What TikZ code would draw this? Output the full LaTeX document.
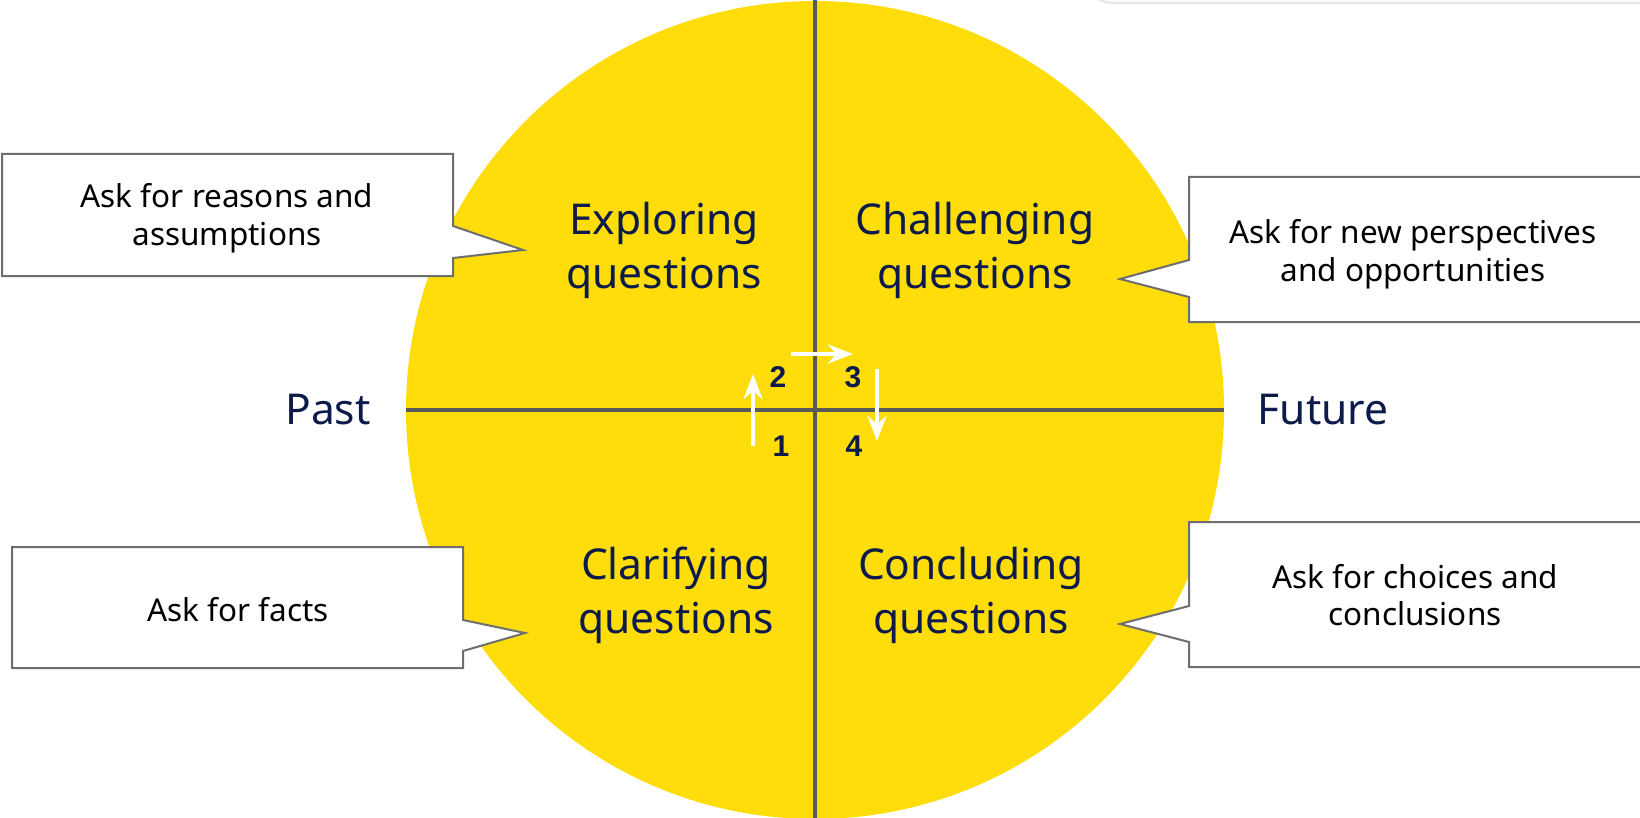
\documentclass[tikz,border=0pt]{standalone}
\usepackage{fontspec}
\setmainfont{Noto Sans}
\newfontfamily\numfont{Liberation Sans}
\usetikzlibrary{arrows.meta}
\definecolor{qyellow}{HTML}{FEDD0B}
\definecolor{qnavy}{HTML}{0D1B4A}
\definecolor{qgray}{HTML}{5A5A5A}
\definecolor{bgray}{HTML}{6E6E6E}
\definecolor{edgegray}{HTML}{E6E8EC}
\begin{document}
\begin{tikzpicture}[x=1pt,y=-1pt,
  quad/.style={font=\fontsize{42.5}{54}\selectfont, text=qnavy, align=center},
  axislabel/.style={font=\fontsize{42.5}{48}\selectfont, text=qnavy},
  num/.style={font=\numfont\fontsize{30}{32}\selectfont\bfseries, text=qnavy},
  flow/.style={draw=white, line width=4pt, -{Stealth[length=25pt,width=19pt]}},
  callout/.style={draw=bgray, fill=white, line width=2pt, line join=miter},
  ctext/.style={font=\fontsize{31.5}{37.5}\selectfont, text=black, align=center},
  divider/.style={draw=qgray, line width=3.5pt}]
\useasboundingbox (0,0) rectangle (1640,818);
\begin{scope}
\clip (0,0) rectangle (1640,818);
% faint edge of a panel at the top right
\draw[edgegray, line width=2.5pt] (1098,-2) .. controls (1105,3) .. (1125,3) -- (1645,3);
% circle
\coordinate (C) at (815,410);
\fill[qyellow] (C) circle (409pt);
% dividers
\coordinate (vt) at (815,-5);
\coordinate (vb) at (815,823);
\coordinate (hl) at (406,410);
\coordinate (hr) at (1224,410);
\draw[divider] (vt) -- (vb);
\draw[divider] (hl) -- (hr);
% callouts
\draw[callout] (2,154) -- (453,154) -- (453,226) -- (523,250) -- (453,258) -- (453,276) -- (2,276) -- cycle;
\draw[callout] (1189,177) -- (1660,177) -- (1660,322) -- (1189,322) -- (1189,297) -- (1120,279) -- (1189,260) -- cycle;
\draw[callout] (12,547) -- (463,547) -- (463,620) -- (525,633) -- (463,651) -- (463,668) -- (12,668) -- cycle;
\draw[callout] (1189,522) -- (1660,522) -- (1660,667) -- (1189,667) -- (1189,642) -- (1120,624) -- (1189,606) -- cycle;
\node[ctext] (t1) at (227,218) {Ask for reasons and\\assumptions};
\node[ctext] (t2) at (1413,254) {Ask for new perspectives\\and opportunities};
\node[ctext] (t3) at (238,610) {Ask for facts};
\node[ctext] (t4) at (1415,595) {Ask for choices and\\conclusions};
% quadrant labels
\node[quad] (q1) at (664,250) {Exploring\\questions};
\node[quad] (q2) at (975,250) {Challenging\\questions};
\node[quad] (q3) at (676,595) {Clarifying\\questions};
\node[quad] (q4) at (971,595) {Concluding\\questions};
\node[axislabel] (past) at (328,410) {Past};
\node[axislabel] (future) at (1323,410) {Future};
% numbers
\node[num] (n1) at (781,446) {1};
\node[num] (n2) at (778,377) {2};
\node[num] (n3) at (853,377) {3};
\node[num] (n4) at (854,446) {4};
% flow arrows
\coordinate (a1s) at (753,446);
\coordinate (a1e) at (753,374);
\coordinate (a2s) at (791,354);
\coordinate (a2e) at (853,354);
\coordinate (a3s) at (877,369);
\coordinate (a3e) at (877,441);
\draw[flow] (a1s) -- (a1e);
\draw[flow] (a2s) -- (a2e);
\draw[flow] (a3s) -- (a3e);
\end{scope}
\end{tikzpicture}
\end{document}
